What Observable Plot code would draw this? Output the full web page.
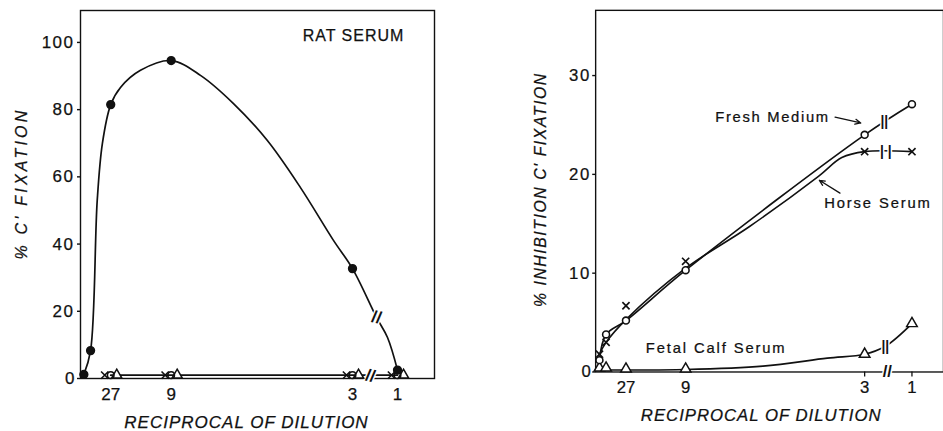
<!DOCTYPE html>
<html>
<head>
<meta charset="utf-8">
<script src="https://cdn.jsdelivr.net/npm/d3@7"></script>
<script src="https://cdn.jsdelivr.net/npm/@observablehq/plot@0.6"></script>
<style>
html,body{margin:0;padding:0;background:#fff;overflow:hidden}
#wrap{position:relative;width:943px;height:431px;overflow:hidden;background:#fff}
#left,#right{position:absolute;top:0}
#left{left:0}
#right{left:470px}
</style>
</head>
<body>
<div id="wrap"><div id="left"></div><div id="right"></div></div>
<script>
// ---------------- data ----------------
const dilutions = [243, 81, 27, 9, 3, 1];          // reciprocal of dilution
const tickDilutions = [27, 9, 3, 1];
const tickLabels = ["27", "9", "3", "1"];
const leftYTicks = [0, 20, 40, 60, 80, 100];
const rightYTicks = [0, 10, 20, 30];

// left panel: % C' fixation
const ratSerum = [1.2, 8.3, 81.5, 94.6, 32.7, 2.5];
const ratCurveConc  = [1/243, 1/81, 0.0205, 0.0268, 1/27, 0.049, 0.0735, 1/9, 0.147, 0.1875, 0.229, 0.2696, 0.31, 1/3, 0.689, 0.852, 1];
const ratCurveValue = [1.2,   8.3,  53.0,   69.9,   81.5, 86.6,  91.7,   94.6, 90.2, 81.8,   70.8,  56.8,   41.1, 32.7, 18.2,  12.2,  2.5];
const leftOtherDil = [27, 9, 3, 1];
const leftHorse = [1, 1, 1, 1];
const leftFresh = [1, 1, 1, 1];
const leftFetal = [1, 1, 1, 1];
const leftBreakConc  = [0.689, 0.6];
const leftBreakValue = [18.2, 0.8];
const leftBreakGlyph = ["//", "//"];

// right panel: % inhibition of C' fixation
const freshMedium = [1.2, 3.8, 5.2, 10.3, 24.0, 27.1];
const horseSerum  = [1.8, 3.0, 6.7, 11.2, 22.3, 22.3];
const fetalCalf   = [0.4, 0.4, 0.3, 0.3, 1.8, 4.9];
const horseCurveConc  = [1/243, 1/81, 1/27, 1/9, 0.19, 0.276, 0.305, 1/3, 1];
const horseCurveValue = [1.8,   3.0,  5.3,  10.5, 14.7, 19.8,  21.7,  22.3, 22.3];
const fetalCurveConc  = [1/243, 1/81, 1/27, 1/9,  0.207, 0.287, 1/3, 0.625, 1];
const fetalCurveValue = [0.2,   0.2,  0.2,  0.25, 0.6,   1.4,   1.8, 2.6,   4.9];
const labelText  = ["Fresh Medium", "Horse Serum", "Fetal Calf Serum"];
const labelConc  = [0.219, 0.521, 0.149];
const labelValue = [25.8, 17.1, 2.4];
const arrowConc1 = [0.2966, 0.3027];
const arrowVal1  = [25.8, 18.1];
const arrowConc2 = [0.3284, 0.2771];
const arrowVal2  = [25.2, 19.4];
const rightBreakConc  = [0.653, 0.611, 0.632, 0.625];
const rightBreakValue = [0, 25.3, 22.3, 2.6];
const rightBreakGlyph = ["//", "||", "| |", "||"];

// ---------------- helpers ----------------
const ink = "#111";
const font = "'Liberation Sans', Arial, Helvetica, sans-serif";
const conc = d => 1 / d;
const tickConc = tickDilutions.map(conc);
const fmtTick = v => tickLabels[tickConc.findIndex(c => Math.abs(c - v) < 1e-9)];
const idx = n => Array.from({length: n}, (_, i) => i);

function finish(svg, rules) {
  d3.select(svg).selectAll("text").each(function () {
    const t = this.textContent;
    if (rules[t] != null) this.setAttribute("letter-spacing", rules[t]);
    const g = this.closest("g");
    if (!(g && g.getAttribute("stroke") === "white")) {
      this.setAttribute("stroke", ink);
      this.setAttribute("stroke-width", "0.25");
    }
  });
}

// ---------------- left panel ----------------
const left = Plot.plot({
  width: 470, height: 431,
  marginLeft: 80, marginRight: 36, marginTop: 10, marginBottom: 53,
  style: {fontFamily: font, fontSize: "17px", color: ink, background: "white", overflow: "visible"},
  x: {type: "linear", domain: [0, 1/3, 1, 1.82], range: [80, 352, 397, 434]},
  y: {domain: [0, 109.5]},
  marks: [
    Plot.frame({stroke: ink, strokeWidth: 1.4}),
    Plot.axisY({ticks: leftYTicks, tickSize: 3, tickPadding: 3, label: null, fontSize: 17, stroke: ink, strokeWidth: 1.4}),
    Plot.axisX({ticks: tickConc, tickFormat: fmtTick, tickSize: 0, tickPadding: 9, label: null, fontSize: 17}),
    // rat serum curve
    Plot.line(idx(ratCurveConc.length), {x: i => ratCurveConc[i], y: i => ratCurveValue[i], curve: "catmull-rom", stroke: ink, strokeWidth: 1.7}),
    // controls line
    Plot.line(leftOtherDil, {x: conc, y: (d, i) => leftFresh[i], stroke: ink, strokeWidth: 1.7}),
    // break marks
    Plot.text(leftBreakGlyph, {x: leftBreakConc, y: leftBreakValue, text: d => d, fontSize: 17, rotate: 12, fill: ink, stroke: "white", strokeWidth: 3, paintOrder: "stroke", fontWeight: "bold"}),
    // markers
    Plot.dot(leftOtherDil, {x: conc, y: (d, i) => leftHorse[i], dx: -6, symbol: "times", r: 3.4, stroke: ink, strokeWidth: 1.6}),
    Plot.dot(leftOtherDil, {x: conc, y: (d, i) => leftFetal[i], dx: 6, symbol: "triangle", r: 3.8, fill: "white", stroke: ink, strokeWidth: 1.5}),
    Plot.dot(dilutions, {x: conc, y: (d, i) => ratSerum[i], r: 3.9, fill: ink, stroke: ink}),
    Plot.dot(leftOtherDil, {x: conc, y: (d, i) => leftFresh[i], r: 3.3, fill: "none", stroke: ink, strokeWidth: 1.5}),
    // titles
    Plot.text(["RAT SERUM"], {frameAnchor: "top", dx: 96, dy: 25, text: d => d, fontSize: 16, textAnchor: "middle", lineAnchor: "middle", fill: ink}),
    Plot.text(["RECIPROCAL OF DILUTION"], {frameAnchor: "bottom", dx: -11, dy: 44, text: d => d, fontSize: 17, fontStyle: "italic", textAnchor: "middle", lineAnchor: "middle", fill: ink}),
    Plot.text(["% C' FIXATION"], {frameAnchor: "left", dx: -59, dy: -11, rotate: -90, text: d => d, fontSize: 16, fontStyle: "italic", textAnchor: "middle", lineAnchor: "middle", fill: ink})
  ]
});
document.getElementById("left").append(left);

// ---------------- right panel ----------------
const right = Plot.plot({
  width: 480, height: 431,
  marginLeft: 127, marginRight: 0, marginTop: 10, marginBottom: 54,
  style: {fontFamily: font, fontSize: "17px", color: ink, background: "white", overflow: "visible"},
  x: {type: "linear", domain: [0, 1/3, 1, 1.44], range: [127.5, 400, 448, 480]},
  y: {domain: [0, 36.6]},
  marks: [
    Plot.frame({stroke: ink, strokeWidth: 1.4}),
    Plot.axisY({ticks: rightYTicks, tickSize: 3, tickPadding: 2, label: null, fontSize: 17, stroke: ink, strokeWidth: 1.4}),
    Plot.axisX({ticks: tickConc, tickFormat: fmtTick, tickSize: 0, tickPadding: 9, label: null, fontSize: 17}),
    Plot.axisX({ticks: tickConc.slice(2), tickFormat: () => "", tickSize: 5, label: null, stroke: ink, strokeWidth: 1.3}),
    // curves
    Plot.line(dilutions, {x: conc, y: (d, i) => freshMedium[i], curve: "catmull-rom", stroke: ink, strokeWidth: 1.7}),
    Plot.line(idx(horseCurveConc.length), {x: i => horseCurveConc[i], y: i => horseCurveValue[i], curve: "catmull-rom", stroke: ink, strokeWidth: 1.6}),
    Plot.line(idx(fetalCurveConc.length), {x: i => fetalCurveConc[i], y: i => fetalCurveValue[i], curve: "catmull-rom", stroke: ink, strokeWidth: 1.7}),
    // break marks
    Plot.text(rightBreakGlyph, {x: rightBreakConc, y: rightBreakValue, text: d => d, fontSize: (d, i) => i === 0 ? 17 : 14, fill: ink, stroke: "white", strokeWidth: 3, paintOrder: "stroke", fontWeight: "bold"}),
    // markers
    Plot.dot(dilutions, {x: conc, y: (d, i) => horseSerum[i], symbol: "times", r: 3.4, stroke: ink, strokeWidth: 1.7}),
    Plot.dot(dilutions, {x: conc, y: (d, i) => fetalCalf[i], symbol: "triangle", r: 4, fill: "white", stroke: ink, strokeWidth: 1.5}),
    Plot.dot(dilutions, {x: conc, y: (d, i) => freshMedium[i], r: 3.5, fill: "white", stroke: ink, strokeWidth: 1.6}),
    // annotations
    Plot.text(labelText, {x: labelConc, y: labelValue, text: d => d, fontSize: 15, textAnchor: "middle", lineAnchor: "middle", fill: ink}),
    Plot.arrow(idx(2), {x1: i => arrowConc1[i], y1: i => arrowVal1[i], x2: i => arrowConc2[i], y2: i => arrowVal2[i], stroke: ink, strokeWidth: 1.3, headLength: 7, headAngle: 50}),
    // titles
    Plot.text(["RECIPROCAL OF DILUTION"], {frameAnchor: "bottom", dx: -8.5, dy: 44, text: d => d, fontSize: 17, fontStyle: "italic", textAnchor: "middle", lineAnchor: "middle", fill: ink}),
    Plot.text(["% INHIBITION C' FIXATION"], {frameAnchor: "left", dx: -55, dy: -1.5, rotate: -90, text: d => d, fontSize: 16, fontStyle: "italic", textAnchor: "middle", lineAnchor: "middle", fill: ink})
  ]
});
document.getElementById("right").append(right);

const rules = {
  "RAT SERUM": "1", "RECIPROCAL OF DILUTION": "1", "% C' FIXATION": "3.2",
  "% INHIBITION C' FIXATION": "1.6", "Fresh Medium": "1.7", "Horse Serum": "1.9", "Fetal Calf Serum": "1.9",
  "100": "1.5", "80": "1.5", "60": "1.5", "40": "1.5", "20": "1.5", "30": "1.5", "10": "1.5"
};
finish(left, rules);
finish(right, rules);
</script>
</body>
</html>
